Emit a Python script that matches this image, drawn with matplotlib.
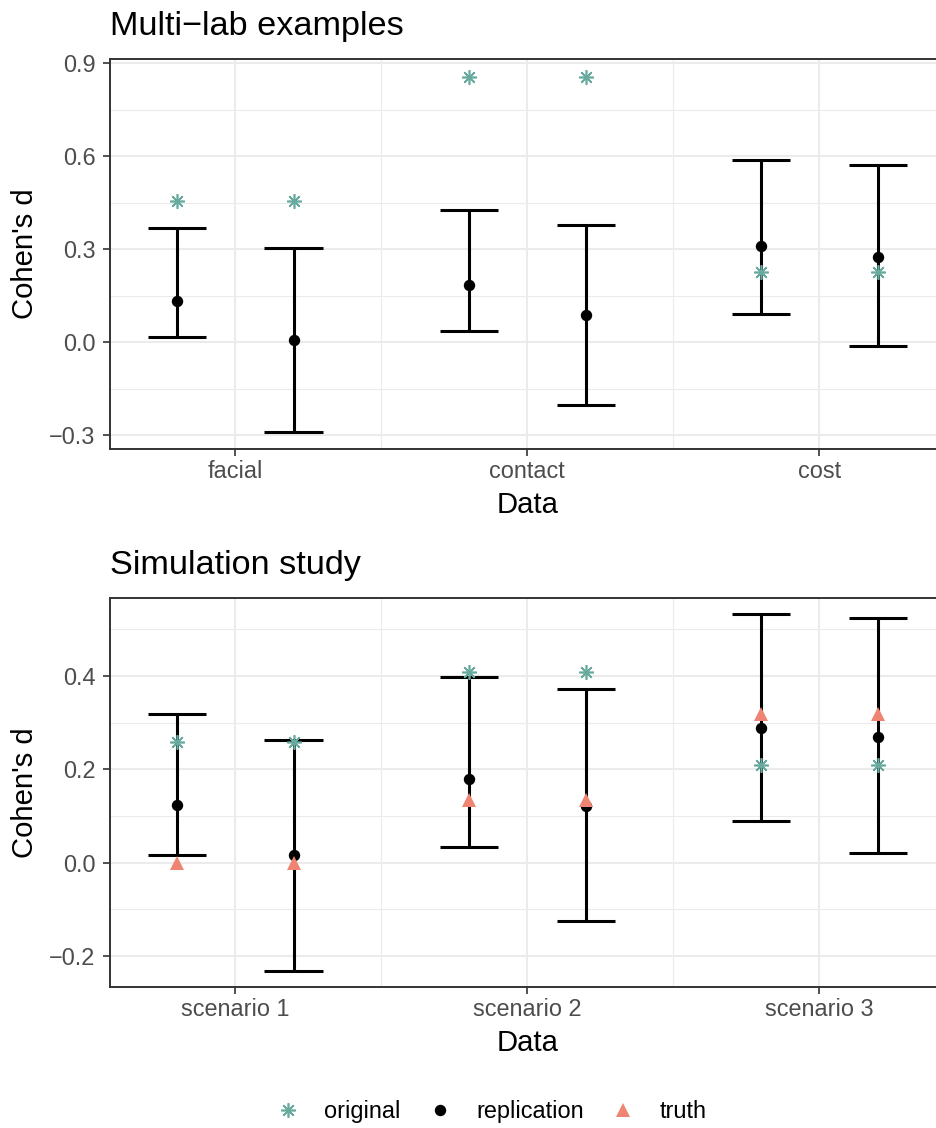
import numpy as np
import matplotlib
matplotlib.use("Agg")
import matplotlib.pyplot as plt
from matplotlib.lines import Line2D
from matplotlib.ticker import MultipleLocator

plt.rcParams['font.family'] = ['Liberation Sans', 'DejaVu Sans']

# ---- data ----
top_cats = ['facial', 'contact', 'cost']
top_orig = [0.457, 0.857, 0.228]
top_est_1 = [0.135, 0.186, 0.310]
top_lo_1 = [0.017, 0.036, 0.090]
top_hi_1 = [0.368, 0.428, 0.588]
top_est_2 = [0.007, 0.087, 0.276]
top_lo_2 = [-0.290, -0.202, -0.012]
top_hi_2 = [0.303, 0.377, 0.572]

bot_cats = ['scenario 1', 'scenario 2', 'scenario 3']
bot_orig = [0.259, 0.408, 0.209]
bot_truth = [0.0, 0.134, 0.318]
bot_est_1 = [0.123, 0.179, 0.289]
bot_lo_1 = [0.016, 0.034, 0.089]
bot_hi_1 = [0.318, 0.398, 0.532]
bot_est_2 = [0.016, 0.121, 0.270]
bot_lo_2 = [-0.231, -0.125, 0.021]
bot_hi_2 = [0.264, 0.372, 0.524]

top_yticks = [-0.3, 0.0, 0.3, 0.6, 0.9]
bot_yticks = [-0.2, 0.0, 0.2, 0.4]

C_ORIG = '#69AA9E'
C_TRUTH = '#EE8471'
GRID = '#EBEBEB'
DARK = '#333333'

W, H = 936, 1128
fig = plt.figure(figsize=(W / 100, H / 100), dpi=100)

def px_axes(left, top, right, bottom):
    return fig.add_axes([left / W, 1 - bottom / H, (right - left) / W, (bottom - top) / H])

def fmt(v):
    s = '%.1f' % v
    return s.replace('-', '\u2212')

def panel(ax, cats, orig, sets, truth, yticks, ylim):
    x = np.arange(1, len(cats) + 1)
    dodge = 0.2
    half = 0.1
    for off, (est, lo, hi) in zip([-dodge, dodge], sets):
        xs = x + off
        ax.vlines(xs, lo, hi, color='black', lw=2.2, zorder=3)
        ax.hlines(lo, xs - half, xs + half, color='black', lw=2.2, zorder=3)
        ax.hlines(hi, xs - half, xs + half, color='black', lw=2.2, zorder=3)
        ax.plot(xs, est, 'o', color='black', ms=7.2, zorder=4, ls='none')
        ax.plot(xs, orig, marker=(8, 2, 0), color=C_ORIG, ms=10.5, mew=1.2,
                ls='none', zorder=5)
        if truth is not None:
            ax.plot(xs, truth, '^', color=C_TRUTH, ms=9.5, mew=0, ls='none', zorder=6)
    ax.set_xticks(x)
    ax.set_xticklabels(cats)
    ax.set_yticks(yticks)
    ax.set_yticklabels([fmt(v) for v in yticks])
    ax.xaxis.set_minor_locator(MultipleLocator(0.5))
    step = yticks[1] - yticks[0]
    ax.set_yticks(np.arange(yticks[0] - step / 2, ylim[1], step), minor=True)
    # limits after ticks, set_yticks would widen them otherwise
    ax.set_xlim(0.571, 3.429)
    ax.set_ylim(*ylim)
    ax.grid(which='major', color=GRID, lw=1.5, zorder=0)
    ax.grid(which='minor', color=GRID, lw=0.8, zorder=0)
    ax.set_axisbelow(True)
    ax.tick_params(which='minor', length=0)
    ax.tick_params(which='major', length=5.3, width=1.2, color=DARK,
                   labelcolor='#4D4D4D', labelsize=16.9)
    ax.tick_params(axis='x', pad=2.6)
    ax.tick_params(axis='y', pad=5.3)
    for s in ax.spines.values():
        s.set_color(DARK)
        s.set_linewidth(1.4)

# top panel
ax1 = px_axes(110, 59, 944.6, 449)
panel(ax1, top_cats, top_orig,
      [(top_est_1, top_lo_1, top_hi_1), (top_est_2, top_lo_2, top_hi_2)],
      None, top_yticks, (-0.344, 0.914))

# bottom panel
ax2 = px_axes(110, 597.7, 944.6, 987.3)
panel(ax2, bot_cats, bot_orig,
      [(bot_est_1, bot_lo_1, bot_hi_1), (bot_est_2, bot_lo_2, bot_hi_2)],
      bot_truth, bot_yticks, (-0.267, 0.568))

# titles and axis labels
cx = (110 + 944.6) / 2
for top, bottom, title in [(59, 449, 'Multi\u2212lab examples'),
                           (597.7, 987.3, 'Simulation study')]:
    fig.text(110 / W, 1 - (top - 24) / H, title, fontsize=24.7, ha='left',
             va='baseline', color='black')
    fig.text(cx / W, 1 - (bottom + 63.7) / H, 'Data', fontsize=21.1,
             ha='center', va='baseline', color='black')
    fig.text(25 / W, 1 - (top + bottom) / 2 / H, "Cohen's d", fontsize=21.1,
             rotation=90, ha='center', va='center', color='black')

# legend
handles = [
    Line2D([], [], marker=(8, 2, 0), color=C_ORIG, ms=10.5, mew=1.2, ls='none'),
    Line2D([], [], marker='o', color='black', ms=7.2, ls='none'),
    Line2D([], [], marker='^', color=C_TRUTH, ms=9.5, mew=0, ls='none'),
]
fig.legend(handles, ['original', 'replication', 'truth'], ncol=3,
           loc='center', bbox_to_anchor=(491.5 / W, 1 - 1111.7 / H),
           frameon=False, fontsize=16.9, handlelength=1.0, handletextpad=1.07,
           columnspacing=1.16, borderpad=0)

fig.savefig('out.png', dpi=100)
